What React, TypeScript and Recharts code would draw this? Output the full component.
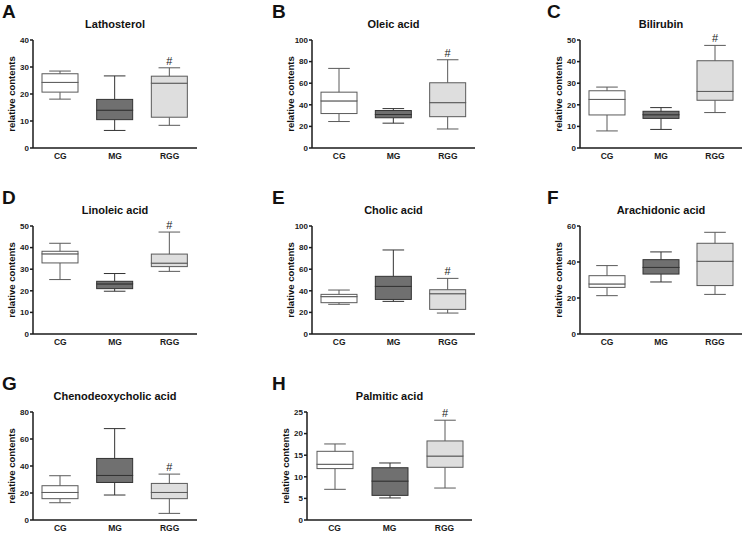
import { Bar, BarChart, LabelList, XAxis, YAxis } from 'recharts';

const GROUPS = ['CG', 'MG', 'RGG'];

// five-number summary per group: [min, q1, median, q3, max]
const LATHOSTEROL = [
  [18.1, 20.7, 24.3, 27.5, 28.5],
  [6.5, 10.5, 14, 18, 26.7],
  [8.4, 11.4, 24, 26.6, 29.7],
];
const OLEIC_ACID = [
  [24.5, 31.9, 43.6, 51.7, 73.7],
  [23, 28, 31, 34.7, 36.5],
  [17.6, 29, 42, 60.4, 81.7],
];
const BILIRUBIN = [
  [7.9, 15.3, 22.5, 26.5, 28.2],
  [8.6, 13.7, 15.4, 17, 18.7],
  [16.4, 22.1, 26.2, 40.4, 47.5],
];
const LINOLEIC_ACID = [
  [25.2, 32.9, 37.1, 38.3, 42],
  [19.8, 21, 23.2, 24.4, 28],
  [29, 31.2, 32.8, 37, 47.2],
];
const CHOLIC_ACID = [
  [27.5, 29, 34.6, 36.7, 40.7],
  [30.2, 32, 44.1, 53.4, 77.8],
  [19.4, 22.8, 37.3, 41, 51.5],
];
const ARACHIDONIC_ACID = [
  [21.3, 25.9, 27.8, 32.4, 38],
  [28.9, 33.3, 37, 41.3, 45.6],
  [22, 26.9, 40.4, 50.4, 56.5],
];
const CHENODEOXYCHOLIC_ACID = [
  [12.8, 15.8, 20.4, 25.4, 32.8],
  [18.5, 27.8, 33, 45.6, 67.7],
  [4.9, 15.8, 20.4, 27.1, 34],
];
const PALMITIC_ACID = [
  [7.1, 11.9, 12.9, 15.9, 17.6],
  [5.1, 5.7, 9, 12.1, 13.2],
  [7.4, 12.2, 14.8, 18.3, 23.1],
];

// significance marks (# vs MG)
const SIG_RGG = ['', '', '#'];
const SIG_NONE = ['', '', ''];

const FILLS = ['#ffffff', '#707070', '#dedede'];
const STROKES = ['#5a5a5a', '#333333', '#5a5a5a'];
const AXIS = '#1a1a1a';

const COL_LETTER_X = [2, 272, 547];
const ROW_TOP = [40, 226, 412];
const ROW_BOTTOM = [148, 334, 520];
const COL_RANGE = [
  [33, 197],
  [312, 475],
  [580, 742],
];

const PANELS = [
  { letter: 'A', title: 'Lathosterol', stats: LATHOSTEROL, sig: SIG_RGG, ticks: [0, 10, 20, 30, 40], row: 0, col: 0 },
  { letter: 'B', title: 'Oleic acid', stats: OLEIC_ACID, sig: SIG_RGG, ticks: [0, 20, 40, 60, 80, 100], row: 0, col: 1 },
  { letter: 'C', title: 'Bilirubin', stats: BILIRUBIN, sig: SIG_RGG, ticks: [0, 10, 20, 30, 40, 50], row: 0, col: 2 },
  { letter: 'D', title: 'Linoleic acid', stats: LINOLEIC_ACID, sig: SIG_RGG, ticks: [0, 10, 20, 30, 40, 50], row: 1, col: 0 },
  { letter: 'E', title: 'Cholic acid', stats: CHOLIC_ACID, sig: SIG_RGG, ticks: [0, 20, 40, 60, 80, 100], row: 1, col: 1 },
  { letter: 'F', title: 'Arachidonic acid', stats: ARACHIDONIC_ACID, sig: SIG_NONE, ticks: [0, 20, 40, 60], row: 1, col: 2 },
  { letter: 'G', title: 'Chenodeoxycholic acid', stats: CHENODEOXYCHOLIC_ACID, sig: SIG_RGG, ticks: [0, 20, 40, 60, 80], row: 2, col: 0 },
  { letter: 'H', title: 'Palmitic acid', stats: PALMITIC_ACID, sig: SIG_RGG, ticks: [0, 5, 10, 15, 20, 25], row: 2, col: 1, l: 307, r: 472 },
];

const YW = 33;
const MT = 15;
const MR = 2;
const XH = 20;

const toRows = (stats: number[][], sig: string[]) =>
  GROUPS.map((group, i) => {
    const [mn, q1, md, q3, mx] = stats[i];
    return { group, base: mn, lw: q1 - mn, lo: md - q1, hi: q3 - md, uw: mx - q3, sig: sig[i] };
  });

const idx = (p: any) => Math.max(0, GROUPS.indexOf(p.payload?.group));

const BoxPart = (p: any) => {
  const i = idx(p);
  return (
    <rect x={p.x} y={p.y} width={p.width} height={Math.max(0, p.height)} fill={FILLS[i]} stroke={STROKES[i]} strokeWidth={1} />
  );
};

const Whisker = (capAtTop: boolean) => (p: any) => {
  const i = idx(p);
  const cx = p.x + p.width / 2;
  const cap = p.width * 0.3;
  const h = Math.max(0, p.height);
  const cy = capAtTop ? p.y : p.y + h;
  return (
    <g stroke={STROKES[i]} strokeWidth={1}>
      <line x1={cx} x2={cx} y1={p.y} y2={p.y + h} />
      <line x1={cx - cap} x2={cx + cap} y1={cy} y2={cy} />
    </g>
  );
};

const SigLabel = (p: any) => {
  if (!p.value) return null;
  return (
    <text x={p.x + p.width / 2} y={p.y - 3} textAnchor='middle' fontSize={11} fill='#222'>
      {p.value}
    </text>
  );
};

const Panel = ({ panel }: { panel: (typeof PANELS)[number] }) => {
  const l = panel.l ?? COL_RANGE[panel.col][0];
  const r = panel.r ?? COL_RANGE[panel.col][1];
  const t = ROW_TOP[panel.row];
  const b = ROW_BOTTOM[panel.row];
  const width = r - l + YW + MR;
  const height = b - t + MT + XH;
  const max = panel.ticks[panel.ticks.length - 1];
  return (
    <div style={{ position: 'absolute', left: l - YW, top: t - MT }}>
      <BarChart width={width} height={height} data={toRows(panel.stats, panel.sig)} margin={{ top: MT, right: MR, left: 0, bottom: 0 }} barSize={36}>
        <XAxis
          dataKey='group'
          height={XH}
          tickLine={false}
          tickSize={3}
          tickMargin={2}
          interval={0}
          axisLine={{ stroke: AXIS, strokeWidth: 1.5 }}
          tick={{ fontSize: 8.5, fontWeight: 700, fill: AXIS }}
        />
        <YAxis
          width={YW}
          domain={[0, max]}
          ticks={panel.ticks}
          interval={0}
          tickSize={3}
          tickMargin={1}
          axisLine={{ stroke: AXIS, strokeWidth: 1.5 }}
          tickLine={{ stroke: AXIS, strokeWidth: 1.5 }}
          tick={{ fontSize: 8, fontWeight: 700, fill: AXIS }}
        />
        <Bar dataKey='base' stackId='s' fill='none' isAnimationActive={false} />
        <Bar dataKey='lw' stackId='s' shape={Whisker(false)} isAnimationActive={false} />
        <Bar dataKey='lo' stackId='s' shape={BoxPart} isAnimationActive={false} />
        <Bar dataKey='hi' stackId='s' shape={BoxPart} isAnimationActive={false} />
        <Bar dataKey='uw' stackId='s' shape={Whisker(true)} isAnimationActive={false}>
          <LabelList dataKey='sig' content={SigLabel} />
        </Bar>
      </BarChart>
    </div>
  );
};

export default function App() {
  return (
    <div
      style={{
        position: 'absolute',
        left: 0,
        top: 0,
        width: 745,
        height: 533,
        background: '#fff',
        fontFamily: '"Liberation Sans", Arial, sans-serif',
      }}
    >
      {PANELS.map((p) => (
        <Panel key={p.letter} panel={p} />
      ))}
      <svg width={745} height={533} style={{ position: 'absolute', left: 0, top: 0, pointerEvents: 'none' }}>
        {PANELS.map((p) => {
          const l = p.l ?? COL_RANGE[p.col][0];
          const r = p.r ?? COL_RANGE[p.col][1];
          const t = ROW_TOP[p.row];
          const b = ROW_BOTTOM[p.row];
          const shift = t - 40;
          const ly = (t + b) / 2;
          return (
            <g key={p.letter} fill='#111' fontWeight={700}>
              <text x={COL_LETTER_X[p.col]} y={18 + shift} fontSize={19}>
                {p.letter}
              </text>
              <text x={(l + r) / 2} y={28 + shift} fontSize={11} textAnchor='middle'>
                {p.title}
              </text>
              <text x={l - 22} y={ly} fontSize={9.5} textAnchor='middle' dominantBaseline='central' transform={`rotate(-90 ${l - 22} ${ly})`}>
                relative contents
              </text>
            </g>
          );
        })}
      </svg>
    </div>
  );
}
